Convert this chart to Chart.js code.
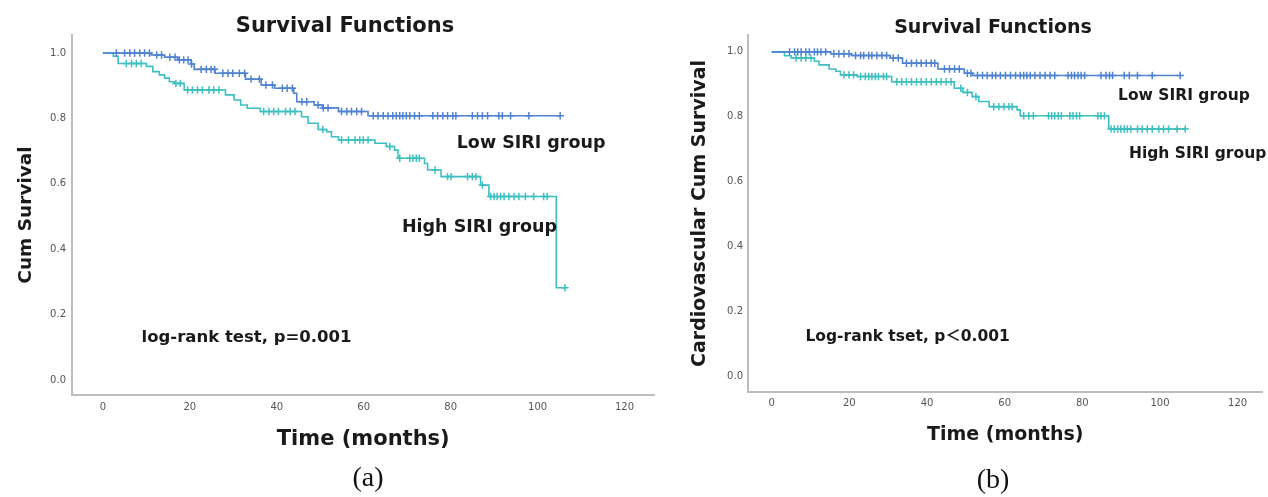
<!DOCTYPE html>
<html>
<head>
<meta charset="utf-8">
<script src="https://cdn.jsdelivr.net/npm/chart.js@4.4.1/dist/chart.umd.min.js"></script>
<style>
  html, body { margin: 0; padding: 0; background: #fff; overflow: hidden; }
  #page { position: relative; width: 1268px; height: 497px; }
  canvas { position: absolute; top: 0; }
  #chartA { left: 0; }
  #chartB { left: 660px; }
  .title { position: absolute; font-family: 'DejaVu Sans', sans-serif; font-weight: bold; color: #1a1a1a;
           white-space: nowrap; transform: translateX(-50%); line-height: 1; }
  .caption { position: absolute; font-family: 'Liberation Serif', serif; font-size: 28px; line-height: 28px;
             transform: translateX(-50%); color: #111; }
</style>
</head>
<body>
<div id="page">
  <canvas id="chartA" width="660" height="497"></canvas>
  <canvas id="chartB" width="608" height="497"></canvas>
  <div class="title" style="left:345px; top:15px; font-size:21px;">Survival Functions</div>
  <div class="title" style="left:993px; top:17px; font-size:19px;">Survival Functions</div>
  <div class="caption" style="left:368px; top:463px;">(a)</div>
  <div class="caption" style="left:993px; top:465px;">(b)</div>
</div>
<script>
// tick values
const xTickValues = [0, 20, 40, 60, 80, 100, 120];
const yTickValues = [0, 0.2, 0.4, 0.6, 0.8, 1.0];

// (a) overall survival - Low SIRI group
const timesLowA = [0, 11.1, 14.2, 17.2, 20.3, 21, 25.8, 32.8, 36.4, 39.5, 43.9, 44.6, 48.6, 50.5, 54.2, 61, 105.2];
const survLowA  = [1, 0.994, 0.987, 0.979, 0.966, 0.950, 0.938, 0.920, 0.902, 0.892, 0.877, 0.851, 0.841, 0.832, 0.821, 0.808, 0.808];
const censorLowA = [3.1, 5, 6.2, 7.3, 8.5, 9.6, 10.7, 12.4, 13.5, 15.4, 16.6, 17.6, 18.6, 19.6, 20.4, 22.6, 23.8, 24.9, 25.7,
  27.6, 28.8, 29.9, 31.4, 32.6, 34.1, 36, 37.5, 39, 41.3, 42.4, 43.6, 45.8, 46.9, 49.5, 50.7, 51.8, 54.9, 56.1, 57.2, 58.4,
  59.5, 62.2, 63.3, 64.5, 65.6, 66.7, 67.5, 68.3, 69, 69.8, 70.6, 71.7, 72.8, 75.9, 77, 78.2, 79.3, 80.5, 81.2, 85, 86.2,
  87.3, 88.5, 91.1, 91.9, 93.8, 98, 105.2];

// (a) overall survival - High SIRI group
const timesHighA = [0, 2.4, 3.5, 10, 11.5, 13, 14.2, 15.3, 16.5, 18.7, 28.2, 30.2, 31.7, 33.2, 36.2, 45.7, 47.2, 49.5, 51.5,
  52.6, 54.2, 62.6, 65.2, 67.1, 67.9, 74, 74.7, 77.8, 86.9, 88.8, 104.3, 106.3];
const survHighA  = [1, 0.99, 0.968, 0.959, 0.943, 0.933, 0.923, 0.912, 0.907, 0.887, 0.872, 0.856, 0.841, 0.831, 0.821, 0.805,
  0.785, 0.766, 0.759, 0.744, 0.734, 0.724, 0.714, 0.703, 0.678, 0.662, 0.642, 0.622, 0.596, 0.561, 0.282, 0.282];
const censorHighA = [5.4, 6.6, 7.7, 8.8, 16.8, 17.8, 19.5, 20.6, 21.8, 22.9, 24.4, 25.5, 26.7, 37, 38.2, 39.3, 40.4, 42, 43.1,
  44.2, 50.6, 54.9, 56.5, 58, 59.1, 59.9, 61, 66, 68.3, 70.6, 71.3, 72.1, 72.8, 76.4, 79.3, 80.1, 83.9, 85, 85.8, 87.3, 89.2,
  90, 90.7, 91.5, 92.3, 93.4, 94.6, 95.7, 97.2, 99.1, 101.4, 102.2, 106.3];

// (b) cardiovascular survival - Low SIRI group
const timesLowB = [0, 15.2, 20.5, 30.5, 33.7, 42.8, 49.6, 51.7, 105.2];
const survLowB  = [1, 0.994, 0.989, 0.981, 0.965, 0.947, 0.934, 0.927, 0.927];
const censorLowB = [4.6, 5.9, 6.7, 7.6, 8.8, 9.7, 11, 11.8, 12.7, 13.9, 16, 17.3, 18.6, 19.9, 21.6, 22.9, 23.7, 25, 25.8,
  27.1, 28.4, 29.6, 31.3, 32.6, 34.7, 36, 37.3, 38.5, 39.8, 41.1, 42, 44.5, 45.8, 47.1, 48.3, 50.4, 51.3, 53, 54.3, 55.5,
  56.8, 57.7, 58.9, 60.2, 61.5, 62.8, 64, 64.9, 65.7, 66.6, 67.8, 69.1, 70.4, 71.7, 72.9, 76.3, 77.2, 78, 78.9, 79.7, 80.6,
  84.8, 86.1, 87, 87.8, 90.8, 92.1, 94.2, 98, 105.2];

// (b) cardiovascular survival - High SIRI group
const timesHighB = [0, 3.3, 5, 11, 12.2, 14.8, 16.5, 17.7, 22, 30.9, 47, 49.2, 51.6, 53.3, 56, 63.2, 64, 86.8, 106.5];
const survHighB  = [1, 0.988, 0.981, 0.971, 0.960, 0.947, 0.940, 0.929, 0.924, 0.908, 0.888, 0.875, 0.862, 0.847, 0.831,
  0.821, 0.803, 0.762, 0.762];
const censorHighB = [6.3, 7.6, 8.8, 10.1, 18.6, 19.9, 21.1, 22.9, 24.1, 25, 25.8, 26.7, 27.5, 28.8, 29.6, 32.2, 33.5, 34.7,
  36, 37.3, 38.5, 39.8, 41.1, 42.4, 43.6, 44.9, 46.2, 48.7, 50.4, 52.6, 57.2, 58.5, 59.8, 61.1, 61.9, 64.9, 66.2, 67.4, 71.3,
  72.1, 72.9, 73.8, 74.6, 76.8, 77.6, 78.5, 79.3, 84, 84.8, 85.7, 87.4, 88.2, 89.1, 89.9, 90.8, 91.6, 92.5, 94.2, 95.4, 96.7,
  98, 99.7, 100.9, 102.2, 104.4, 106.5];

const BLUE = '#4f82d0';
const TEAL = '#3ebfc0';
const FONT = "'DejaVu Sans', 'Noto Sans CJK SC', sans-serif";

function stepPoints(times, surv) {
    return times.map((t, i) => ({ x: t, y: surv[i] }));
}

// censored cases sit on the curve at the survival value in force at that time
function censorPoints(censor, times, surv) {
    return censor.map(t => {
        let s = surv[0];
        for (let i = 0; i < times.length; i++) {
            if (times[i] <= t) s = surv[i];
        }
        return { x: t, y: s };
    });
}

// free text inside the plot, placed in data units
const notesPlugin = {
    id: 'notes',
    afterDatasetsDraw(chart, args, opts) {
        const { ctx, scales } = chart;
        ctx.save();
        ctx.fillStyle = '#1a1a1a';
        ctx.textAlign = 'left';
        ctx.textBaseline = 'alphabetic';
        (opts.items || []).forEach(n => {
            ctx.font = 'bold ' + n.size + 'px ' + FONT;
            ctx.fillText(n.text, scales.x.getPixelForValue(n.t), scales.y.getPixelForValue(n.v));
        });
        ctx.restore();
    }
};

function lineSet(times, surv, color) {
    return {
        data: stepPoints(times, surv),
        borderColor: color,
        borderWidth: 1.6,
        stepped: true,
        pointRadius: 0,
        pointHitRadius: 0
    };
}

function crossSet(censor, times, surv, color) {
    return {
        data: censorPoints(censor, times, surv),
        showLine: false,
        pointStyle: 'cross',
        pointRadius: 3.7,
        pointBorderWidth: 1.5,
        borderColor: color,
        pointBorderColor: color,
        pointHitRadius: 0
    };
}

function makeChart(id, c) {
    return new Chart(document.getElementById(id), {
        type: 'line',
        data: {
            datasets: [
                lineSet(c.lowT, c.lowS, BLUE),
                crossSet(c.lowC, c.lowT, c.lowS, BLUE),
                lineSet(c.highT, c.highS, TEAL),
                crossSet(c.highC, c.highT, c.highS, TEAL)
            ]
        },
        plugins: [notesPlugin],
        options: {
            responsive: false,
            animation: false,
            layout: { padding: { top: 35, left: 0, right: c.padRight, bottom: 0 } },
            plugins: {
                legend: { display: false },
                tooltip: { enabled: false },
                notes: { items: c.notes }
            },
            scales: {
                x: {
                    type: 'linear',
                    min: c.xMin,
                    max: c.xMax,
                    grid: { display: false, drawTicks: false },
                    border: { display: true, color: '#bdbdbd', width: 2 },
                    afterBuildTicks: s => { s.ticks = xTickValues.map(v => ({ value: v })); },
                    afterFit: s => { s.height = c.xAxisHeight; },
                    ticks: { autoSkip: false, maxRotation: 0, padding: c.xTickPad, color: '#555',
                             font: { family: FONT, size: 10 } },
                    title: { display: true, text: 'Time (months)', color: '#1a1a1a',
                             font: { family: FONT, size: c.xTitleSize, weight: 'bold' },
                             padding: { top: 0, bottom: c.xTitlePad } }
                },
                y: {
                    min: c.yMin,
                    max: c.yMax,
                    grid: { display: false, drawTicks: false },
                    border: { display: true, color: '#bdbdbd', width: 2 },
                    afterBuildTicks: s => { s.ticks = yTickValues.map(v => ({ value: v })); },
                    afterFit: s => { s.width = c.yAxisWidth; },
                    ticks: { padding: c.yTickPad, color: '#555', font: { family: FONT, size: 10 },
                             callback: v => v.toFixed(1) },
                    title: { display: true, text: c.yTitle, color: '#1a1a1a',
                             font: { family: FONT, size: c.yTitleSize, weight: 'bold' },
                             padding: { top: c.yTitlePad, bottom: 0 } }
                }
            }
        }
    });
}

makeChart('chartA', {
    lowT: timesLowA, lowS: survLowA, lowC: censorLowA,
    highT: timesHighA, highS: survHighA, highC: censorHighA,
    xMin: -7.1, xMax: 126.9, yMin: -0.046, yMax: 1.055,
    padRight: 1.75, xAxisHeight: 102, yAxisWidth: 72,
    xTickPad: 6, yTickPad: 6,
    xTitleSize: 21, xTitlePad: 45,
    yTitle: 'Cum Survival', yTitleSize: 18.5, yTitlePad: 15,
    notes: [
        { text: 'Low SIRI group', t: 81.4, v: 0.709, size: 17.5 },
        { text: 'High SIRI group', t: 68.8, v: 0.453, size: 17.5 },
        { text: 'log-rank test, p=0.001', t: 8.9, v: 0.116, size: 16.5 }
    ]
});

makeChart('chartB', {
    lowT: timesLowB, lowS: survLowB, lowC: censorLowB,
    highT: timesHighB, highS: survHighB, highC: censorHighB,
    xMin: -6.1, xMax: 126.4, yMin: -0.049, yMax: 1.052,
    padRight: 0, xAxisHeight: 105, yAxisWidth: 88,
    xTickPad: 5, yTickPad: 5,
    xTitleSize: 19, xTitlePad: 51,
    yTitle: 'Cardiovascular Cum Survival', yTitleSize: 19, yTitlePad: 28.6,
    notes: [
        { text: 'Low SIRI group', t: 89.2, v: 0.850, size: 15.5 },
        { text: 'High SIRI group', t: 92, v: 0.673, size: 15.5 },
        { text: 'Log-rank tset, p\uFF1C0.001', t: 8.7, v: 0.109, size: 15.5 }
    ]
});
</script>
</body>
</html>
